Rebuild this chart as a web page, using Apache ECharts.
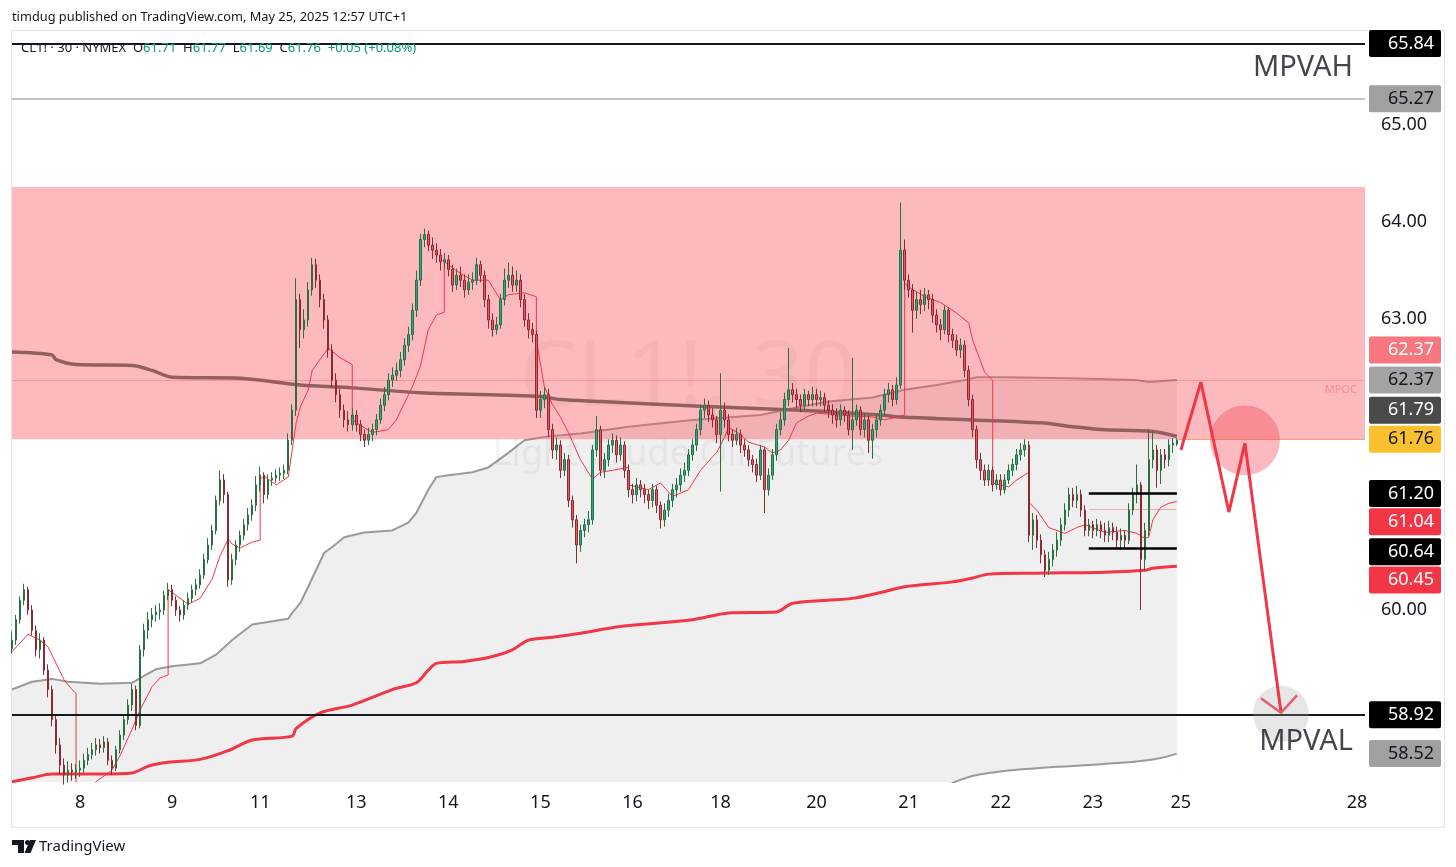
<!DOCTYPE html>
<html>
<head>
<meta charset="utf-8" />
<title>CL1! 30 NYMEX</title>
<script src="https://cdn.jsdelivr.net/npm/echarts@6/dist/echarts.min.js"></script>
<style>
  html, body { margin: 0; padding: 0; background: #fff; }
  #chart { width: 1456px; height: 867px; }
</style>
</head>
<body>
<div id="chart"></div>
<script>
// day labels on the time axis and the hourly slot they start at
var dayLabels = ['8', '9', '11', '13', '14', '15', '16', '18', '20', '21', '22', '23', '25', '28'];
var dayIndex = [17, 40, 62, 86, 109, 132, 155, 177, 201, 224, 247, 270, 292, 336];
var slotCount = 339;

// hourly candles: [open, close, low, high]
var candles = [
  [59.60,59.69,59.55,59.78],[59.69,59.90,59.64,59.95],[59.90,60.10,59.86,60.14],[60.10,60.21,60.05,60.27],[60.21,60.00,59.95,60.24],
  [60.00,59.79,59.74,60.05],[59.79,59.59,59.52,59.84],[59.59,59.69,59.50,59.76],[59.69,59.38,59.33,59.72],[59.38,59.18,59.10,59.44],
  [59.18,58.87,58.80,59.22],[58.87,58.61,58.52,58.92],[58.61,58.40,58.30,58.68],[58.40,58.30,58.20,58.47],[58.30,58.35,58.22,58.44],
  [58.35,58.33,58.24,58.42],[58.33,58.35,58.26,58.41],[58.35,58.37,58.28,58.45],[58.37,58.45,58.32,58.52],[58.45,58.51,58.40,58.58],
  [58.51,58.56,58.46,58.63],[58.56,58.61,58.50,58.68],[58.61,58.58,58.52,58.67],[58.58,58.64,58.53,58.70],[58.64,58.45,58.40,58.68],
  [58.45,58.37,58.30,58.50],[58.37,58.56,58.34,58.60],[58.56,58.71,58.52,58.76],[58.71,58.87,58.66,58.92],[58.87,59.02,58.82,59.08],
  [59.02,59.18,58.96,59.24],[59.18,58.81,58.76,59.22],[58.81,59.59,58.78,59.64],[59.59,59.79,59.52,59.86],[59.79,59.90,59.70,59.98],
  [59.90,59.95,59.82,60.02],[59.95,59.98,59.88,60.05],[59.98,60.00,59.90,60.07],[60.00,60.15,59.95,60.20],[60.15,60.21,60.10,60.28],
  [60.21,60.10,60.04,60.26],[60.10,60.00,59.94,60.14],[60.00,59.95,59.88,60.04],[59.95,60.05,59.90,60.10],[60.05,60.12,60.00,60.18],
  [60.12,60.21,60.08,60.26],[60.21,60.26,60.15,60.32],[60.26,60.36,60.22,60.42],[60.36,60.52,60.32,60.58],[60.52,60.67,60.48,60.74],
  [60.67,60.82,60.62,60.88],[60.82,61.13,60.78,61.18],[61.13,61.34,61.08,61.44],[61.34,61.19,61.10,61.40],[61.19,60.31,60.24,61.22],
  [60.31,60.52,60.26,60.58],[60.52,60.67,60.46,60.72],[60.67,60.77,60.60,60.82],[60.77,60.88,60.72,60.94],[60.88,60.98,60.82,61.05],
  [60.98,61.08,60.92,61.14],[61.08,61.29,61.02,61.38],[61.29,61.39,61.22,61.48],[61.39,61.19,61.10,61.42],[61.19,61.34,61.14,61.40],
  [61.34,61.36,61.28,61.42],[61.36,61.39,61.31,61.45],[61.39,61.41,61.33,61.47],[61.41,61.44,61.35,61.50],[61.44,61.75,61.40,61.82],
  [61.75,62.06,61.70,62.12],[62.06,63.20,62.00,63.42],[63.20,62.89,62.70,63.26],[62.89,62.99,62.80,63.10],[62.99,63.30,62.92,63.38],
  [63.30,63.56,63.24,63.63],[63.56,63.40,63.32,63.62],[63.40,63.20,63.12,63.46],[63.20,62.99,62.90,63.26],[62.99,62.68,62.60,63.04],
  [62.68,62.37,62.30,62.74],[62.37,62.22,62.14,62.44],[62.22,62.06,61.98,62.28],[62.06,61.96,61.88,62.12],[61.96,61.91,61.84,62.05],
  [61.91,62.01,61.85,62.08],[62.01,61.91,61.84,62.06],[61.91,61.81,61.74,61.96],[61.81,61.75,61.68,61.86],[61.75,61.81,61.70,61.88],
  [61.81,61.86,61.74,61.92],[61.86,61.96,61.80,62.02],[61.96,62.11,61.92,62.18],[62.11,62.22,62.05,62.30],[62.22,62.37,62.16,62.44],
  [62.37,62.42,62.30,62.50],[62.42,62.47,62.36,62.55],[62.47,62.58,62.40,62.66],[62.58,62.73,62.52,62.80],[62.73,62.84,62.66,62.92],
  [62.84,63.09,62.78,63.16],[63.09,63.40,63.02,63.50],[63.40,63.82,63.34,63.88],[63.82,63.87,63.74,63.93],[63.87,63.76,63.70,63.91],
  [63.76,63.71,63.62,63.84],[63.71,63.66,63.58,63.78],[63.66,63.59,63.50,63.72],[63.59,63.61,63.52,63.68],[63.61,63.51,63.44,63.66],
  [63.51,63.35,63.28,63.56],[63.35,63.45,63.30,63.52],[63.45,63.40,63.33,63.54],[63.40,63.30,63.22,63.46],[63.30,63.38,63.25,63.46],
  [63.38,63.40,63.30,63.48],[63.40,63.56,63.35,63.63],[63.56,63.45,63.38,63.60],[63.45,63.20,63.12,63.50],[63.20,62.99,62.90,63.25],
  [62.99,62.89,62.82,63.06],[62.89,62.94,62.84,63.02],[62.94,63.20,62.90,63.26],[63.20,63.40,63.14,63.52],[63.40,63.45,63.32,63.58],
  [63.45,63.35,63.28,63.54],[63.35,63.40,63.28,63.50],[63.40,63.20,63.12,63.46],[63.20,62.99,62.92,63.26],[62.99,62.89,62.80,63.06],
  [62.89,62.84,62.76,62.96],[62.84,62.06,61.98,62.88],[62.06,62.17,61.98,62.26],[62.17,62.22,62.08,62.30],[62.22,61.86,61.78,62.28],
  [61.86,61.65,61.56,61.92],[61.65,61.70,61.55,61.78],[61.70,61.44,61.36,61.75],[61.44,61.55,61.38,61.62],[61.55,61.13,61.06,61.60],
  [61.13,60.93,60.85,61.18],[60.93,60.67,60.48,60.98],[60.67,60.82,60.60,60.88],[60.82,60.88,60.75,60.94],[60.88,60.93,60.80,61.02],
  [60.93,61.65,60.88,61.70],[61.65,61.86,61.58,62.00],[61.86,61.44,61.38,61.90],[61.44,61.55,61.36,61.62],[61.55,61.70,61.48,61.76],
  [61.70,61.75,61.62,61.82],[61.75,61.60,61.52,61.80],[61.60,61.70,61.54,61.78],[61.70,61.44,61.36,61.74],[61.44,61.24,61.16,61.50],
  [61.24,61.19,61.10,61.30],[61.19,61.29,61.12,61.36],[61.29,61.24,61.16,61.34],[61.24,61.19,61.10,61.30],[61.19,61.13,61.04,61.24],
  [61.13,61.24,61.06,61.30],[61.24,61.08,61.00,61.28],[61.08,60.93,60.84,61.12],[60.93,61.03,60.86,61.10],[61.03,61.13,60.96,61.20],
  [61.13,61.24,61.06,61.30],[61.24,61.29,61.16,61.36],[61.29,61.39,61.22,61.46],[61.39,61.44,61.32,61.52],[61.44,61.60,61.38,61.66],
  [61.60,61.70,61.54,61.76],[61.70,61.86,61.64,61.92],[61.86,62.06,61.80,62.12],[62.06,62.11,61.98,62.18],[62.11,62.01,61.94,62.16],
  [62.01,61.96,61.88,62.08],[61.96,61.81,61.72,62.00],[61.81,62.06,61.22,62.44],[62.06,61.96,61.88,62.14],[61.96,61.81,61.74,62.02],
  [61.81,61.75,61.68,61.86],[61.75,61.81,61.70,61.88],[61.81,61.70,61.62,61.86],[61.70,61.65,61.58,61.76],[61.65,61.55,61.48,61.70],
  [61.55,61.50,61.42,61.60],[61.50,61.39,61.32,61.56],[61.39,61.65,61.34,61.70],[61.65,61.24,61.00,61.68],[61.24,61.39,61.18,61.46],
  [61.39,61.60,61.34,61.66],[61.60,61.86,61.54,61.92],[61.86,61.96,61.80,62.04],[61.96,62.17,61.90,62.24],[62.17,62.27,62.10,62.70],
  [62.27,62.22,62.14,62.34],[62.22,62.17,62.08,62.28],[62.17,62.11,62.04,62.22],[62.11,62.22,62.06,62.28],[62.22,62.17,62.10,62.26],
  [62.17,62.22,62.10,62.30],[62.22,62.17,62.10,62.28],[62.17,62.19,62.10,62.26],[62.19,62.11,62.04,62.24],[62.11,62.06,61.98,62.16],
  [62.06,62.01,61.92,62.12],[62.01,61.96,61.88,62.08],[61.96,62.06,61.90,62.12],[62.06,62.01,61.94,62.10],[62.01,61.86,61.80,62.06],
  [61.86,61.96,61.65,62.60],[61.96,62.06,61.90,62.12],[62.06,61.86,61.80,62.10],[61.86,61.96,61.78,62.02],[61.96,61.75,61.62,62.00],
  [61.75,61.86,61.56,61.92],[61.86,61.96,61.78,62.02],[61.96,62.06,61.90,62.12],[62.06,62.22,62.00,62.28],[62.22,62.27,62.14,62.34],
  [62.27,62.17,62.10,62.32],[62.17,62.32,62.12,62.40],[62.32,63.71,62.28,64.20],[63.71,63.40,63.30,63.82],[63.40,63.30,63.22,63.46],
  [63.30,63.09,62.86,63.36],[63.09,63.20,63.00,63.28],[63.20,63.15,63.05,63.30],[63.15,63.25,63.08,63.32],[63.25,63.20,63.10,63.30],
  [63.20,63.04,62.96,63.26],[63.04,62.94,62.86,63.10],[62.94,62.89,62.78,63.00],[62.89,63.09,62.84,63.14],[63.09,62.84,62.76,63.12],
  [62.84,62.78,62.70,62.90],[62.78,62.68,62.62,62.84],[62.68,62.73,62.60,62.80],[62.73,62.47,62.40,62.78],[62.47,62.17,62.10,62.52],
  [62.17,61.86,61.78,62.22],[61.86,61.55,61.46,61.90],[61.55,61.44,61.34,61.62],[61.44,61.34,61.28,61.50],[61.34,61.44,61.28,61.50],
  [61.44,61.29,61.22,61.48],[61.29,61.34,61.24,61.40],[61.34,61.24,61.18,61.40],[61.24,61.34,61.20,61.40],[61.34,61.44,61.30,61.50],
  [61.44,61.50,61.38,61.56],[61.50,61.60,61.44,61.66],[61.60,61.65,61.54,61.72],[61.65,61.70,61.58,61.76],[61.70,60.77,60.70,61.74],
  [60.77,60.93,60.62,61.00],[60.93,60.72,60.64,60.98],[60.72,60.57,60.48,60.78],[60.57,60.41,60.34,60.62],[60.41,60.52,60.36,60.60],
  [60.52,60.62,60.45,60.68],[60.62,60.72,60.55,60.80],[60.72,60.88,60.66,60.95],[60.88,61.03,60.82,61.10],[61.03,61.19,60.96,61.26],
  [61.19,61.13,61.06,61.26],[61.13,61.19,61.05,61.28],[61.19,61.03,60.96,61.24],[61.03,60.82,60.76,61.08],[60.82,60.88,60.76,60.94],
  [60.88,60.82,60.74,60.92],[60.82,60.88,60.76,60.94],[60.88,60.82,60.74,60.92],[60.82,60.77,60.70,60.90],[60.77,60.85,60.70,60.92],
  [60.85,60.80,60.72,60.90],[60.80,60.72,60.64,60.86],[60.72,60.77,60.62,60.84],[60.77,60.72,60.64,60.82],[60.72,61.03,60.68,61.10],
  [61.03,61.19,60.98,61.26],[61.19,61.29,61.10,61.50],[61.29,60.52,60.00,61.32],[60.52,60.82,60.40,60.90],[60.82,61.55,60.76,61.86],
  [61.55,61.65,61.46,61.84],[61.65,61.44,61.26,61.70],[61.44,61.60,61.30,61.66],[61.60,61.55,61.46,61.66],[61.55,61.70,61.48,61.76],
  [61.70,61.72,61.62,61.77],[61.71,61.76,61.69,61.77]
];

// indicator lines as [slot, price]
var vwapMain = [[0,62.66],[10,62.63],[11,62.58],[16,62.53],[30,62.52],[35,62.47],[40,62.40],[57,62.39],[72,62.32],[85,62.29],
  [102,62.24],[132,62.20],[137,62.17],[147,62.15],[172,62.10],[197,62.06],[217,62.01],[222,61.99],[240,61.96],[257,61.93],
  [265,61.89],[272,61.86],[285,61.84],[291,61.79]];
var bandUpper = [[0,59.18],[5,59.26],[10,59.29],[14,59.26],[22,59.24],[30,59.25],[33,59.32],[36,59.39],[40,59.42],[47,59.45],
  [51,59.54],[55,59.69],[60,59.85],[69,59.91],[70,59.97],[72,60.07],[74,60.24],[78,60.59],[80,60.65],[83,60.75],[88,60.80],
  [95,60.82],[99,60.90],[101,61.00],[104,61.24],[106,61.37],[109,61.39],[115,61.42],[119,61.47],[124,61.62],[128,61.75],
  [134,61.79],[142,61.82],[154,61.89],[170,61.96],[187,62.01],[195,62.08],[204,62.15],[215,62.19],[223,62.27],[231,62.32],
  [238,62.37],[241,62.40],[248,62.40],[264,62.39],[281,62.37],[284,62.35],[291,62.37]];
var bandLower = [[232,58.15],[237,58.25],[244,58.32],[256,58.37],[272,58.41],[285,58.46],[291,58.52]];
var bandRed = [[0,58.23],[5,58.27],[10,58.31],[22,58.31],[30,58.32],[34,58.39],[39,58.43],[47,58.46],[54,58.55],[60,58.66],
  [70,58.70],[71,58.78],[77,58.94],[85,59.02],[95,59.18],[101,59.25],[104,59.38],[106,59.45],[113,59.47],[120,59.52],
  [125,59.59],[129,59.69],[135,59.72],[142,59.76],[152,59.83],[170,59.90],[179,59.97],[191,59.98],[195,60.07],[210,60.12],
  [217,60.18],[223,60.24],[235,60.29],[240,60.33],[244,60.37],[256,60.38],[273,60.39],[283,60.41],[285,60.43],[291,60.45]];
var sessionLine = [[0,59.57],[4,59.75],[7,59.69],[9,59.62],[13,59.28],[15,59.18],[16,59.14],
  [16,57.90],[21,58.23],[25,58.35],[27,58.50],[30,58.77],[32,58.97],[35,59.21],[37,59.30],[39,59.33],
  [39,60.21],[42,60.12],[44,60.06],[47,60.12],[50,60.32],[52,60.56],[54,60.73],[55,60.68],[57,60.64],[60,60.70],[62,60.72],
  [62,61.35],[63,61.38],[66,61.29],[69,61.37],[71,61.93],[72,62.09],[74,62.27],[75,62.47],[79,62.70],[82,62.60],[85,62.53],
  [85,61.96],[88,61.88],[90,61.83],[94,61.86],[96,61.96],[98,62.13],[100,62.30],[102,62.51],[104,62.89],[106,63.04],[108,63.07],
  [108,63.59],[112,63.47],[115,63.40],[119,63.40],[122,63.20],[124,63.25],[128,63.27],[131,63.23],
  [131,62.78],[133,62.30],[135,62.12],[137,61.99],[139,61.83],[142,61.55],[145,61.35],[147,61.42],[150,61.44],[154,61.47],
  [154,61.29],[159,61.24],[162,61.31],[165,61.17],[169,61.24],[172,61.44],[175,61.58],[176,61.62],[178,61.78],[179,61.88],
  [180,61.86],[182,61.81],[184,61.73],[188,61.68],[190,61.62],[192,61.65],[194,61.75],[196,61.93],[199,62.00],[201,62.03],
  [210,62.00],[215,61.99],[218,61.96],[223,62.01],
  [223,63.37],[224,63.33],[228,63.23],[232,63.17],[236,63.06],[239,62.96],[240,62.78],[243,62.45],[245,62.37],
  [245,61.31],[249,61.27],[251,61.34],[254,61.42],
  [254,61.11],[256,61.03],[259,60.85],[263,60.79],[266,60.85],[268,60.88],[273,60.80],[278,60.82],[281,60.79],[283,60.74],
  [284,60.75],[285,60.93],[287,61.06],[289,61.10],[291,61.12]];

// drawn levels and zone
var pinkZone = [61.76, 64.36];
var fullLevels = [65.84, 65.27, 58.92, 62.37];
var fullLevelColors = ['#131722', '#c4c4c4', '#131722', 'rgba(242,54,69,0.28)'];
var fullLevelWidths = [2, 2, 2, 1];
var boxLevels = [61.20, 60.64];
var boxFrom = 269, boxTo = 291;
var midLevel = 61.04;
var lastPrice = 61.76;

// projection drawn after the last bar
var projection = [[292,61.65],[297,62.35],[304,61.01],[308,61.72],[317,58.95]];
var arrowHead = [[312,59.09],[317,58.94],[321,59.12]];
var targets = [[308,61.75],[317,58.93]];

// price tags on the right scale
var tagTexts = ['65.84','65.27','62.37','62.37','61.79','61.76','61.20','61.04','60.64','60.45','58.92','58.52'];
var tagSlots = [65.84, 65.27, 62.68, 62.37, 62.06, 61.76, 61.20, 60.91, 60.60, 60.31, 58.92, 58.52];
var tagFill = ['#000000','#a0a0a0','#f7767f','#a3a3a3','#4a4a4a','#fbc02d','#000000','#f23645','#000000','#f23645','#000000','#a0a0a0'];
var tagInk = ['#ffffff','#131722','#ffffff','#131722','#ffffff','#131722','#ffffff','#ffffff','#ffffff','#ffffff','#ffffff','#131722'];
var axisValues = [60, 63, 64, 65];

var FONT = '"Noto Sans", sans-serif';

var categories = [];
for (var i = 0; i < slotCount; i++) categories.push('');
dayIndex.forEach(function (d, k) { categories[d] = dayLabels[k]; });

var chart = echarts.init(document.getElementById('chart'));

var levelLines = fullLevels.map(function (v, k) {
  return { yAxis: v, lineStyle: { color: fullLevelColors[k], width: fullLevelWidths[k], type: 'solid' } };
});
boxLevels.forEach(function (v) {
  levelLines.push([{ coord: [boxFrom, v], lineStyle: { color: '#000', width: 2.5, type: 'solid' } }, { coord: [boxTo, v] }]);
});
levelLines.push([{ coord: [boxFrom, midLevel], lineStyle: { color: 'rgba(242,54,69,0.35)', width: 1, type: 'solid' } }, { coord: [boxTo, midLevel] }]);
levelLines.push([{ coord: [boxTo, lastPrice], lineStyle: { color: '#f7a072', width: 1, type: 'solid' } }, { coord: [slotCount - 1, lastPrice] }]);

var option = {
  animation: false,
  backgroundColor: '#ffffff',
  grid: { left: 12, right: 91, top: 31, bottom: 85 },
  xAxis: {
    type: 'category',
    data: categories,
    boundaryGap: false,
    axisLine: { show: false },
    axisTick: { show: false },
    splitLine: { show: false },
    axisLabel: { interval: 0, color: '#131722', fontSize: 18, fontFamily: FONT, margin: 12 }
  },
  yAxis: {
    type: 'value',
    position: 'right',
    min: 58.227,
    max: 65.969,
    scale: true,
    axisLine: { show: false },
    axisTick: { show: false },
    splitLine: { show: false },
    axisLabel: {
      customValues: axisValues,
      formatter: function (v) { return v.toFixed(2); },
      color: '#131722', fontSize: 18, fontFamily: FONT, margin: 16
    }
  },
  series: [
    {
      name: 'band upper', type: 'line', data: bandUpper, z: 1, symbol: 'none',
      lineStyle: { color: '#9a9a9a', width: 2 },
      areaStyle: { color: '#efefef', opacity: 1, origin: 'start' }
    },
    {
      name: 'band lower', type: 'line', data: bandLower, z: 1, symbol: 'none', smooth: true,
      lineStyle: { color: '#9a9a9a', width: 2 },
      areaStyle: { color: '#ffffff', opacity: 1, origin: 'start' }
    },
    {
      name: 'zone', type: 'line', data: [], z: 3,
      markArea: {
        z: 3,
        silent: true,
        itemStyle: { color: 'rgba(247,82,95,0.4)' },
        data: [[{ yAxis: pinkZone[0] }, { yAxis: pinkZone[1] }]]
      }
    },
    {
      name: 'vwap', type: 'line', data: vwapMain, z: 4, symbol: 'none', smooth: 0.3,
      lineStyle: { color: '#93605f', width: 3.5 }
    },
    {
      name: 'lower red', type: 'line', data: bandRed, z: 4, symbol: 'none', smooth: 0.3,
      lineStyle: { color: '#f23645', width: 3 }
    },
    {
      name: 'session', type: 'line', data: sessionLine, z: 5, symbol: 'none',
      lineStyle: { color: '#f23645', width: 1 }
    },
    {
      name: 'CL1!', type: 'candlestick', data: candles, z: 6, barWidth: 2,
      itemStyle: { color: '#22ab94', color0: '#f7525f', borderColor: '#2b6e3f', borderColor0: '#8c2a33', borderWidth: 1 }
    },
    {
      name: 'levels', type: 'line', data: [], z: 7,
      markLine: { z: 7, silent: true, symbol: 'none', label: { show: false }, data: levelLines }
    },
    {
      name: 'targets', type: 'scatter', data: targets, z: 8, symbol: 'circle',
      symbolSize: function (v, p) { return p.dataIndex === 0 ? 70 : 56; },
      itemStyle: {
        color: function (p) { return p.dataIndex === 0 ? 'rgba(240,60,75,0.45)' : 'rgba(165,165,165,0.35)'; }
      }
    },
    {
      name: 'projection', type: 'line', data: projection, z: 9, symbol: 'none',
      lineStyle: { color: '#f23645', width: 3 }
    },
    {
      name: 'arrow', type: 'line', data: arrowHead, z: 9, symbol: 'none',
      lineStyle: { color: '#e4606d', width: 2.5 }
    },
    {
      name: 'notes', type: 'scatter', z: 9, symbolSize: 0,
      data: [
        { value: [335, 65.59], name: 'MPVAH', label: { fontSize: 29 } },
        { value: [335, 58.64], name: 'MPVAL', label: { fontSize: 29 } },
        { value: [336, 62.27], name: 'MPOC', label: { fontSize: 11, color: 'rgba(242,54,69,0.45)' } }
      ],
      label: {
        show: true, position: 'inside', align: 'right', verticalAlign: 'middle',
        formatter: '{b}', color: '#131722', fontFamily: FONT
      }
    }
  ]
};
chart.setOption(option);

var graphics = [
  { type: 'rect', z: 0, shape: { x: 11.5, y: 30.5, width: 1433, height: 797 }, style: { fill: 'none', stroke: '#e0e3eb', lineWidth: 1 } },
  { type: 'text', z: 2, x: 688, y: 380, style: { text: 'CL1!, 30', fill: 'rgba(0,0,0,0.045)', font: '92px ' + FONT, align: 'center', textAlign: 'center', verticalAlign: 'middle', textVerticalAlign: 'middle' } },
  { type: 'text', z: 2, x: 688, y: 455, style: { text: 'Light Crude Oil Futures', fill: 'rgba(0,0,0,0.045)', font: '36px ' + FONT, align: 'center', textAlign: 'center', verticalAlign: 'middle', textVerticalAlign: 'middle' } },
  { type: 'text', z: 20, x: 12, y: 17, style: { text: 'timdug published on TradingView.com, May 25, 2025 12:57 UTC+1', fill: '#131722', font: '12.8px ' + FONT, verticalAlign: 'middle', textVerticalAlign: 'middle' } },
  {
    type: 'text', z: 20, x: 21, y: 48,
    style: {
      text: '{k|CL1! · 30 · NYMEX  O}{v|61.71}{k|  H}{v|61.77}{k|  L}{v|61.69}{k|  C}{v|61.76}{v|  +0.05 (+0.08%)}',
      verticalAlign: 'middle', textVerticalAlign: 'middle',
      rich: {
        k: { fill: '#131722', color: '#131722', font: '13px ' + FONT },
        v: { fill: '#089981', color: '#089981', font: '13px ' + FONT }
      }
    }
  },
  { type: 'rect', z: 20, shape: { x: 12, y: 840, width: 12, height: 5 }, style: { fill: '#131722' } },
  { type: 'rect', z: 20, shape: { x: 18, y: 840, width: 6, height: 13 }, style: { fill: '#131722' } },
  { type: 'circle', z: 20, shape: { cx: 27.5, cy: 842.5, r: 2.5 }, style: { fill: '#131722' } },
  { type: 'polygon', z: 20, shape: { points: [[30, 840], [36, 840], [30.5, 853], [24.5, 853]] }, style: { fill: '#131722' } },
  { type: 'text', z: 20, x: 39, y: 847, style: { text: 'TradingView', fill: '#131722', font: '15px ' + FONT, verticalAlign: 'middle', textVerticalAlign: 'middle' } }
];

tagTexts.forEach(function (t, k) {
  var y = chart.convertToPixel({ yAxisIndex: 0 }, tagSlots[k]);
  graphics.push({ type: 'rect', z: 30, shape: { x: 1369, y: y - 13.5, width: 72, height: 27, r: 2 }, style: { fill: tagFill[k] } });
  graphics.push({ type: 'text', z: 31, x: 1434, y: y, style: { text: t, fill: tagInk[k], font: '18px ' + FONT, align: 'right', textAlign: 'right', verticalAlign: 'middle', textVerticalAlign: 'middle' } });
});

chart.setOption({ graphic: graphics });
</script>
</body>
</html>
